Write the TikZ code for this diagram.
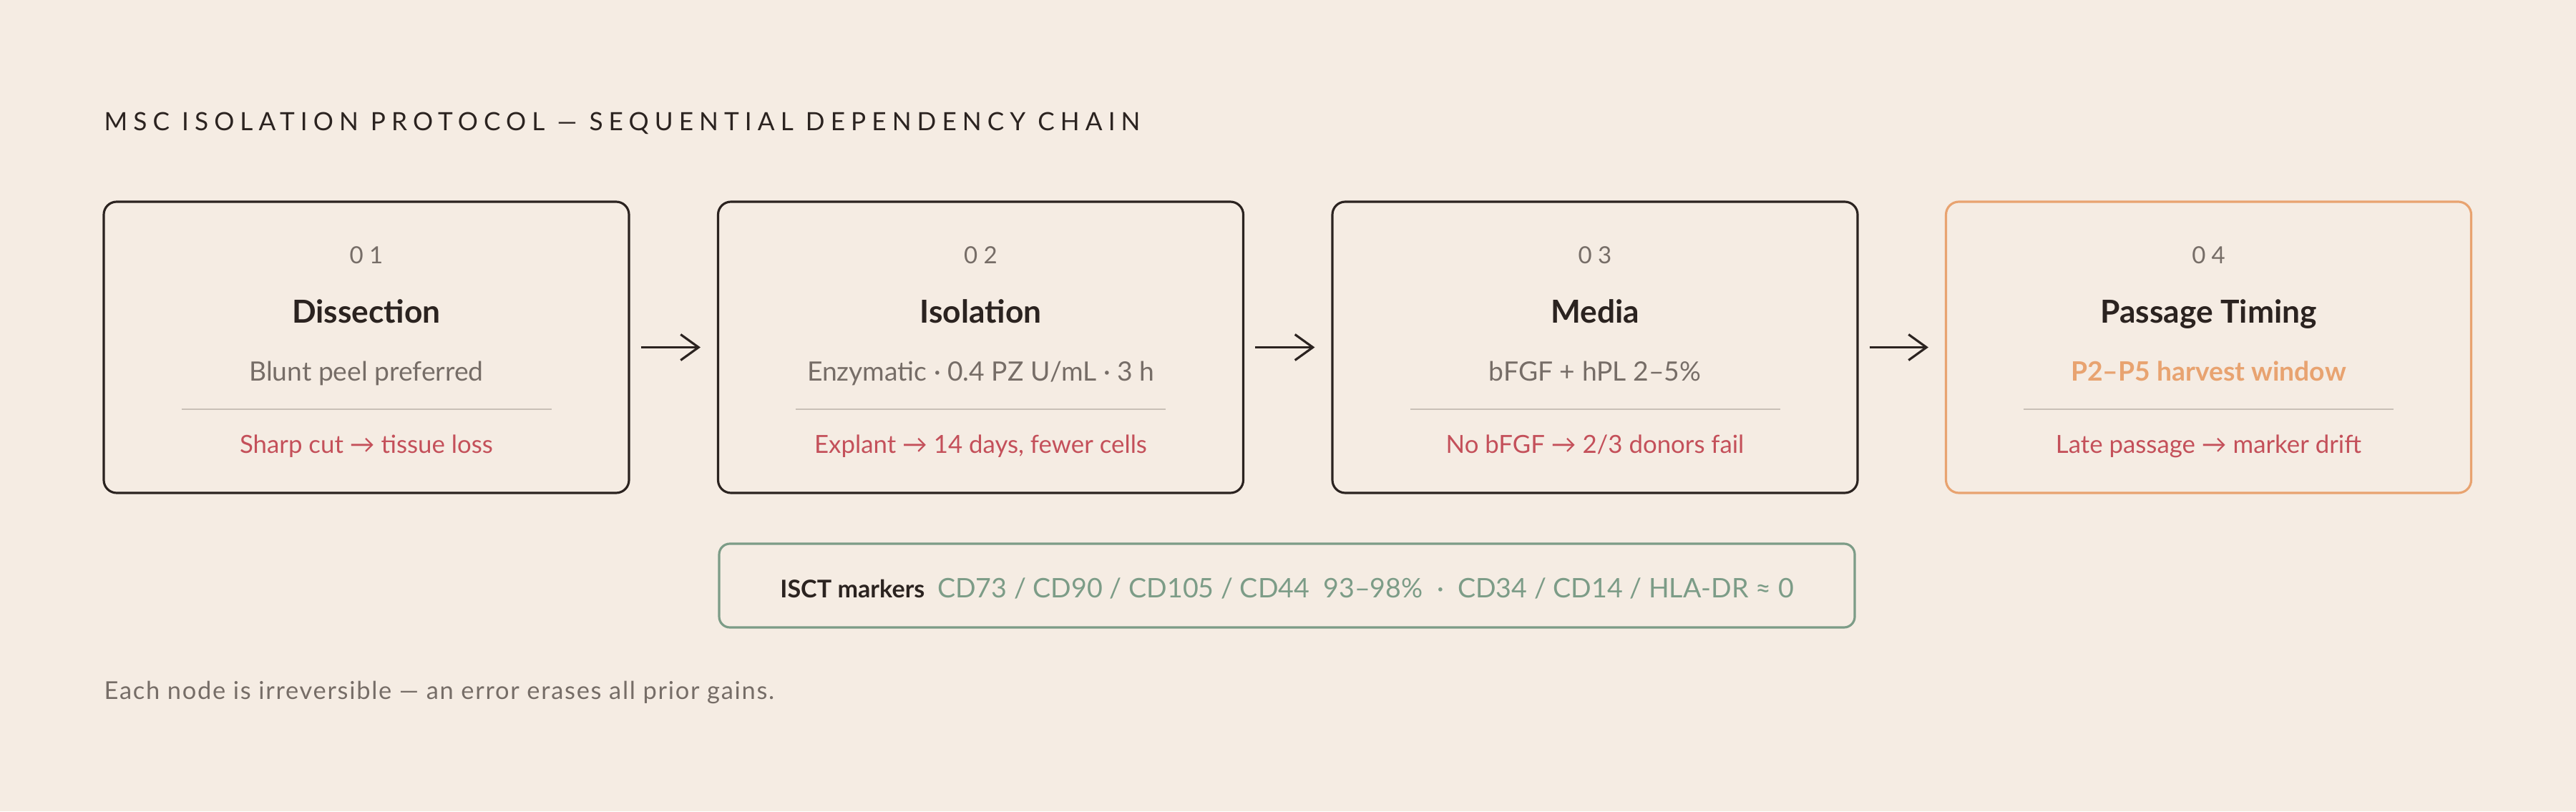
\documentclass[tikz,border=0pt]{standalone}
\usepackage{fontspec}
\setmainfont{Lato}
\newfontfamily\spacedfont[LetterSpace=23]{Lato}
\newfontfamily\numfont[LetterSpace=25]{Lato}
\newfontfamily\footfont[LetterSpace=5]{Lato}
\usetikzlibrary{arrows.meta,calc}
\definecolor{paper}{HTML}{F5ECE3}
\definecolor{ink}{HTML}{2B2320}
\definecolor{muted}{HTML}{766D67}
\definecolor{risk}{HTML}{C4505A}
\definecolor{amber}{HTML}{E8A370}
\definecolor{sage}{HTML}{7C9C87}
\definecolor{rulegrey}{HTML}{C9C0B7}
\tikzset{
	stage/.style={draw=ink, line width=0.9pt, rounded corners=0.18cm, minimum width=7.34cm, minimum height=4.07cm},
	stagelast/.style={stage, draw=amber},
	txt/.style={inner sep=0pt, anchor=base},
	stagenum/.style={txt, text=muted, font=\numfont\fontsize{9.4pt}{11pt}\selectfont},
	stagetitle/.style={txt, text=ink, font=\fontsize{12.6pt}{15pt}\selectfont\bfseries},
	stagenote/.style={txt, text=muted, font=\fontsize{10.6pt}{13pt}\selectfont},
	stagerisk/.style={txt, text=risk, font=\fontsize{9.9pt}{12pt}\selectfont},
	rule/.style={draw=rulegrey, line width=0.75pt},
	flow/.style={draw=ink, line width=0.9pt, -{Straight Barb[length=0.25cm, width=0.36cm]}, shorten <=0.15cm, shorten >=0.23cm},
}

\begin{document}
\begin{tikzpicture}
				\useasboundingbox[fill=paper] (0,0) rectangle (36,11.34);
				
				\node[anchor=base west, inner sep=0pt, text=ink, font=\spacedfont\fontsize{10pt}{12pt}\selectfont] (head) at (1.45,9.51) {MSC ISOLATION PROTOCOL — SEQUENTIAL DEPENDENCY CHAIN};
				
				% stage 1
				\node[stage] (s1) at (5.12,6.485) {};
				\node[stagenum] (s1num) at ($(s1.center)+(0,1.165)$) {01};
				\node[stagetitle] (s1title) at ($(s1.center)+(0,0.335)$) {Dissection};
				\node[stagenote] (s1note) at ($(s1.center)+(0,-0.475)$) {Blunt peel preferred};
				\draw[rule] ($(s1.center)+(-2.585,-0.865)$) -- ($(s1.center)+(2.585,-0.865)$);
				\node[stagerisk] (s1risk) at ($(s1.center)+(0,-1.475)$) {Sharp cut → tissue loss};
				
				% stage 2
				\node[stage] (s2) at (13.705,6.485) {};
				\node[stagenum] (s2num) at ($(s2.center)+(0,1.165)$) {02};
				\node[stagetitle] (s2title) at ($(s2.center)+(0,0.335)$) {Isolation};
				\node[stagenote] (s2note) at ($(s2.center)+(0,-0.475)$) {Enzymatic · 0.4 PZ U/mL · 3 h};
				\draw[rule] ($(s2.center)+(-2.585,-0.865)$) -- ($(s2.center)+(2.585,-0.865)$);
				\node[stagerisk] (s2risk) at ($(s2.center)+(0,-1.475)$) {Explant → 14 days, fewer cells};
				
				% stage 3
				\node[stage] (s3) at (22.29,6.485) {};
				\node[stagenum] (s3num) at ($(s3.center)+(0,1.165)$) {03};
				\node[stagetitle] (s3title) at ($(s3.center)+(0,0.335)$) {Media};
				\node[stagenote] (s3note) at ($(s3.center)+(0,-0.475)$) {bFGF + hPL 2–5\%};
				\draw[rule] ($(s3.center)+(-2.585,-0.865)$) -- ($(s3.center)+(2.585,-0.865)$);
				\node[stagerisk] (s3risk) at ($(s3.center)+(0,-1.475)$) {No bFGF → 2/3 donors fail};
				
				% stage 4
				\node[stagelast] (s4) at (30.865,6.485) {};
				\node[stagenum] (s4num) at ($(s4.center)+(0,1.165)$) {04};
				\node[stagetitle] (s4title) at ($(s4.center)+(0,0.335)$) {Passage Timing};
				\node[stagenote, text=amber, font=\fontsize{10.6pt}{13pt}\selectfont\bfseries] (s4note) at ($(s4.center)+(0,-0.475)$) {P2–P5 harvest window};
				\draw[rule] ($(s4.center)+(-2.585,-0.865)$) -- ($(s4.center)+(2.585,-0.865)$);
				\node[stagerisk] (s4risk) at ($(s4.center)+(0,-1.475)$) {Late passage → marker drift};
				
				\draw[flow] (s1) -- (s2);
				\draw[flow] (s2) -- (s3);
				\draw[flow] (s3) -- (s4);
				
				% markers
				\node[draw=sage, line width=0.9pt, rounded corners=0.15cm, minimum width=15.87cm, minimum height=1.17cm] (isct) at (17.985,3.155) {};
				\node[txt] (isctlbl) at ($(isct.center)+(0,-0.165)$) {{\fontsize{9.7pt}{11pt}\selectfont\bfseries\color{ink}ISCT markers}\ \ {\fontsize{10.7pt}{13pt}\selectfont\color{sage}CD73 / CD90 / CD105 / CD44\ \ 93–98\%\ \ ·\ \ CD34 / CD14 / HLA-DR ≈ 0}};
				
				\node[anchor=base west, inner sep=0pt, text=muted, font=\footfont\fontsize{9.8pt}{12pt}\selectfont] (foot) at (1.45,1.57) {Each node is irreversible — an error erases all prior gains.};
\end{tikzpicture}
\end{document}
